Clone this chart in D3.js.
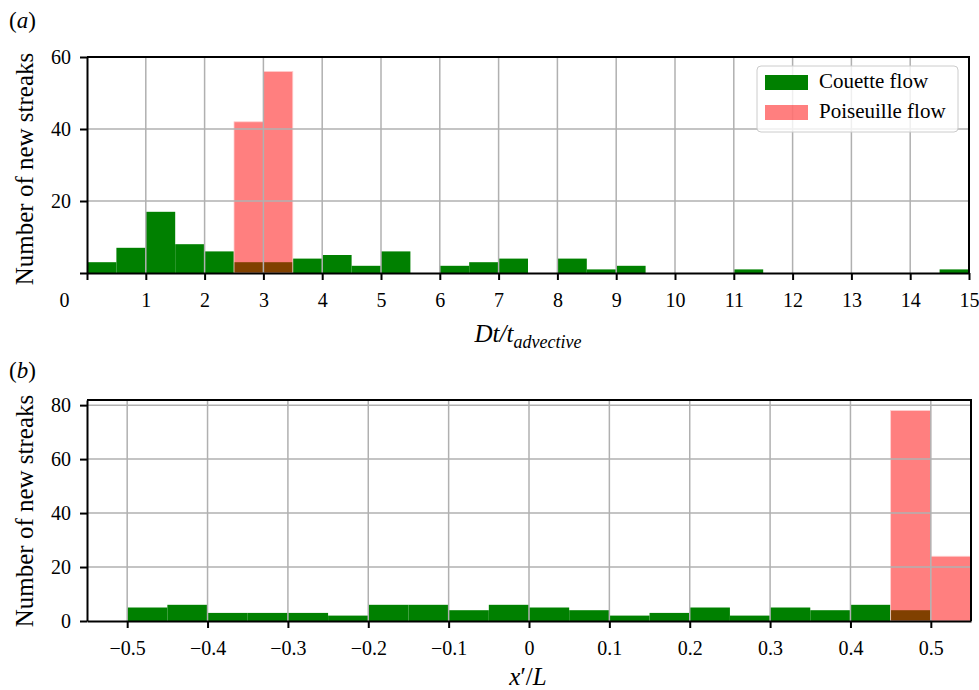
<!DOCTYPE html>
<html>
<head>
<meta charset="utf-8">
<script src="https://cdn.jsdelivr.net/npm/d3@7"></script>
<style>
  body { margin: 0; background: #fff; }
  svg text { font-family: "Liberation Serif", "DejaVu Serif", serif; fill: #000; }
</style>
</head>
<body>
<svg id="chart" width="979" height="690"></svg>
<script>
// panel (a): histogram of Dt/t_advective, bins of 0.5
const binsA = [0,0.5,1,1.5,2,2.5,3,3.5,4,4.5,5,5.5,6,6.5,7,7.5,8,8.5,9,9.5,10,10.5,11,11.5,12,12.5,13,13.5,14,14.5];
const couetteA = [3,7,17,8,6,3,3,4,5,2,6,0,2,3,4,0,4,1,2,0,0,0,1,0,0,0,0,0,0,1];
const poiseuilleA = [0,0,0,0,0,42,56,0,0,0,0,0,0,0,0,0,0,0,0,0,0,0,0,0,0,0,0,0,0,0];
const binWidthA = 0.5;
const xTicksA = [0,1,2,3,4,5,6,7,8,9,10,11,12,13,14,15];
const yTicksA = [0,20,40,60];

// panel (b): histogram of x'/L, bins of 0.05
const binsB = [-0.5,-0.45,-0.4,-0.35,-0.3,-0.25,-0.2,-0.15,-0.1,-0.05,0,0.05,0.1,0.15,0.2,0.25,0.3,0.35,0.4,0.45,0.5];
const couetteB = [5,6,3,3,3,2,6,6,4,6,5,4,2,3,5,2,5,4,6,4,0];
const poiseuilleB = [0,0,0,0,0,0,0,0,0,0,0,0,0,0,0,0,0,0,0,78,24];
const binWidthB = 0.05;
const xTicksB = [-0.5,-0.4,-0.3,-0.2,-0.1,0,0.1,0.2,0.3,0.4,0.5];
const yTicksB = [0,20,40,60,80];

const green = "#008000", red = "#ff0000", gridColor = "#b0b0b0";
const svg = d3.select("#chart");

function panel(opt) {
  const x = d3.scaleLinear().domain(opt.xDomain).range([opt.left, opt.right]);
  const y = d3.scaleLinear().domain(opt.yDomain).range([opt.bottom, opt.top]);
  const g = svg.append("g");

  const bars = (vals, color, op) => g.append("g")
    .selectAll("rect")
    .data(opt.bins.map((b, i) => ({b, v: vals[i]})).filter(d => d.v > 0))
    .join("rect")
    .attr("x", d => x(d.b))
    .attr("width", d => x(d.b + opt.binWidth) - x(d.b))
    .attr("y", d => y(d.v))
    .attr("height", d => y(0) - y(d.v))
    .attr("fill", color)
    .attr("fill-opacity", op);

  bars(opt.couette, green, 1);
  bars(opt.poiseuille, red, 0.5)
    .attr("stroke", "#ffd0d0").attr("stroke-width", 0.8);

  // grid on top of bars
  g.append("g").selectAll("line")
    .data(opt.xTicks.filter(t => x(t) > opt.left + 1 && x(t) < opt.right - 1))
    .join("line")
    .attr("x1", d => x(d)).attr("x2", d => x(d))
    .attr("y1", opt.top).attr("y2", opt.bottom)
    .attr("stroke", gridColor).attr("stroke-width", 1.5);
  g.append("g").selectAll("line")
    .data(opt.yTicks.filter(t => y(t) > opt.top + 1 && y(t) < opt.bottom - 1))
    .join("line")
    .attr("x1", opt.left).attr("x2", opt.right)
    .attr("y1", d => y(d)).attr("y2", d => y(d))
    .attr("stroke", gridColor).attr("stroke-width", 1.5);

  // axes
  const xAxis = g.append("g")
    .attr("transform", `translate(0,${opt.bottom})`)
    .call(d3.axisBottom(x).tickValues(opt.xTicks).tickFormat(opt.xFormat)
      .tickSize(7).tickSizeOuter(0).tickPadding(13));
  const yAxis = g.append("g")
    .attr("transform", `translate(${opt.left},0)`)
    .call(d3.axisLeft(y).tickValues(opt.yTicks).tickFormat(opt.yFormat)
      .tickSize(7).tickSizeOuter(0).tickPadding(9));
  [xAxis, yAxis].forEach(a => {
    a.select(".domain").attr("stroke", "#000").attr("stroke-width", 2);
    a.selectAll(".tick line").attr("stroke", "#000").attr("stroke-width", 2);
    a.selectAll("text").attr("font-size", 20).attr("font-family", null);
  });
  if (opt.shiftZero) {
    xAxis.selectAll(".tick text").filter(d => d === 0).attr("dx", -23);
  }

  // top and right spines
  g.append("path")
    .attr("d", `M${opt.left},${opt.top}H${opt.right}V${opt.bottom}`)
    .attr("fill", "none").attr("stroke", "#000").attr("stroke-width", 2);

  // y label
  g.append("text")
    .attr("transform", `translate(33,${opt.ylabelY}) rotate(-90)`)
    .attr("text-anchor", "middle")
    .attr("font-size", 25)
    .text("Number of new streaks");

  // panel letter
  const pl = g.append("text").attr("x", 9).attr("y", opt.letterY).attr("font-size", 23);
  pl.append("tspan").text("(");
  pl.append("tspan").attr("font-style", "italic").text(opt.letter);
  pl.append("tspan").text(")");
  return {x, y, g};
}

const a = panel({
  bins: binsA, couette: couetteA, poiseuille: poiseuilleA, binWidth: binWidthA,
  xDomain: [0, 15], yDomain: [0, 60],
  left: 87, right: 969, top: 57, bottom: 273,
  xTicks: xTicksA, yTicks: yTicksA,
  xFormat: d => String(d), yFormat: d => d === 0 ? "" : String(d),
  shiftZero: true, ylabelY: 169, letter: "a", letterY: 28
});

const b = panel({
  bins: binsB, couette: couetteB, poiseuille: poiseuilleB, binWidth: binWidthB,
  xDomain: [-0.55, 0.55], yDomain: [0, 81.9],
  left: 87, right: 971, top: 400, bottom: 621,
  xTicks: xTicksB, yTicks: yTicksB,
  xFormat: d => Math.abs(d) < 1e-9 ? "0" : d3.format(".1f")(d), yFormat: d => String(d),
  shiftZero: false, ylabelY: 511, letter: "b", letterY: 378
});

// x labels
const xl1 = svg.append("text").attr("x", 528).attr("y", 342)
  .attr("text-anchor", "middle").attr("font-size", 25).attr("font-style", "italic");
xl1.append("tspan").text("Dt/t");
xl1.append("tspan").attr("font-size", 18).attr("dy", 6).text("advective");

const xl2 = svg.append("text").attr("x", 528).attr("y", 685)
  .attr("text-anchor", "middle").attr("font-size", 25);
xl2.append("tspan").attr("font-style", "italic").text("x");
xl2.append("tspan").text("′/");
xl2.append("tspan").attr("font-style", "italic").text("L");

// legend in panel (a)
const leg = svg.append("g");
leg.append("rect").attr("x", 757).attr("y", 66).attr("width", 201).attr("height", 66)
  .attr("rx", 4).attr("fill", "#fff").attr("fill-opacity", 0.8)
  .attr("stroke", "#cccccc").attr("stroke-width", 1);
const legItems = [{name: "Couette flow", color: green, op: 1}, {name: "Poiseuille flow", color: red, op: 0.5}];
legItems.forEach((d, i) => {
  leg.append("rect").attr("x", 765).attr("y", 75 + i * 30).attr("width", 43).attr("height", 15)
    .attr("fill", d.color).attr("fill-opacity", d.op);
  leg.append("text").attr("x", 819).attr("y", 88 + i * 30).attr("font-size", 21).text(d.name);
});
</script>
</body>
</html>
